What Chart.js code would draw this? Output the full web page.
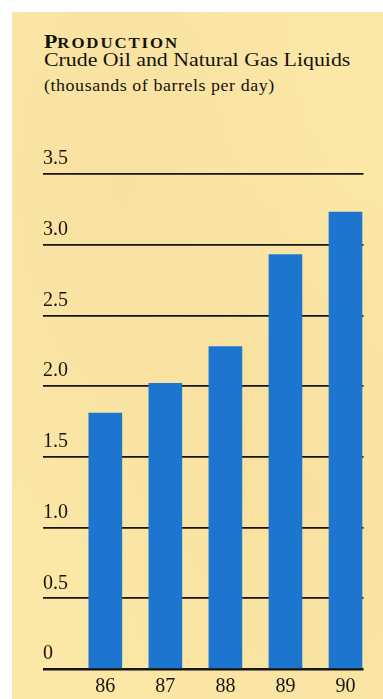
<!DOCTYPE html>
<html>
<head>
<meta charset="utf-8">
<script src="https://cdn.jsdelivr.net/npm/chart.js@4/dist/chart.umd.min.js"></script>
<style>
  html, body { margin: 0; padding: 0; background: #fff; }
  body { width: 383px; height: 699px; position: relative; overflow: hidden; }
  .paper {
    position: absolute; left: 12px; top: 12px; right: 0; bottom: 0;
    background:
      radial-gradient(ellipse at 30% 25%, rgba(244, 212, 148, 0.3), rgba(244, 212, 148, 0) 60%),
      radial-gradient(ellipse at 80% 70%, rgba(242, 208, 145, 0.25), rgba(242, 208, 145, 0) 55%),
      #fbe7a6;
  }
  .txt {
    position: absolute; left: 44px; white-space: nowrap; color: #15130e;
    font-family: "Liberation Serif", serif; line-height: 1;
    transform: scaleX(1.12); transform-origin: left top;
  }
  .title { top: 32px; font-size: 19.5px; font-weight: bold; }
  .title .sc { font-size: 15px; text-transform: uppercase; letter-spacing: 1.7px; }
  .sub { top: 50px; font-size: 19.5px; }
  .unit { top: 78px; font-size: 16px; letter-spacing: 0.5px; }
  canvas { position: absolute; left: 0; top: 0; }
</style>
</head>
<body>
<div class="paper"></div>
<div class="txt title">P<span class="sc">roduction</span></div>
<div class="txt sub">Crude Oil and Natural Gas Liquids</div>
<div class="txt unit">(thousands of barrels per day)</div>
<canvas id="chart" width="383" height="699"></canvas>
<script>
const years = ['86', '87', '88', '89', '90'];
const production = [1.81, 2.02, 2.28, 2.93, 3.23];
const yTickLabels = ['0', '0.5', '1.0', '1.5', '2.0', '2.5', '3.0', '3.5'];

const barBlue = '#1c76d0';
const inkColor = '#17150f';

function draw_chart () {
  const ctx = document.getElementById('chart').getContext('2d');
  const points = years.map((y, i) => ({ x: Number(y), y: production[i] }));

  new Chart(ctx, {
    type: 'bar',
    data: {
      datasets: [{
        data: points,
        backgroundColor: barBlue,
        borderWidth: 0,
        barThickness: 33
      }]
    },
    options: {
      responsive: false,
      animation: false,
      events: [],
      layout: {
        padding: { left: 43, right: 19.5, top: 174, bottom: 0 }
      },
      plugins: {
        legend: { display: false },
        tooltip: { enabled: false }
      },
      scales: {
        x: {
          type: 'linear',
          offset: false,
          min: 84.962,
          max: 90.3,
          afterFit: s => { s.height = 30; },
          afterBuildTicks: s => { s.ticks = years.map(y => ({ value: Number(y) })); },
          grid: { display: false, drawTicks: false, offset: false },
          border: { display: false },
          ticks: {
            autoSkip: false,
            maxRotation: 0,
            padding: 6,
            color: inkColor,
            font: { family: 'Liberation Serif', size: 20 },
            callback: (v, i) => years[i]
          }
        },
        y: {
          min: 0,
          max: 3.5,
          afterFit: s => { s.width = 0; },
          grid: {
            drawTicks: false,
            color: inkColor,
            lineWidth: c => (c.tick && c.tick.value === 0 ? 2.4 : 1.7)
          },
          border: { display: false },
          ticks: {
            stepSize: 0.5,
            mirror: true,
            padding: 0,
            labelOffset: -15,
            color: inkColor,
            font: { family: 'Liberation Serif', size: 20 },
            callback: (v, i) => yTickLabels[i]
          }
        }
      }
    }
  });
}

document.addEventListener('DOMContentLoaded', draw_chart);
</script>
</body>
</html>
